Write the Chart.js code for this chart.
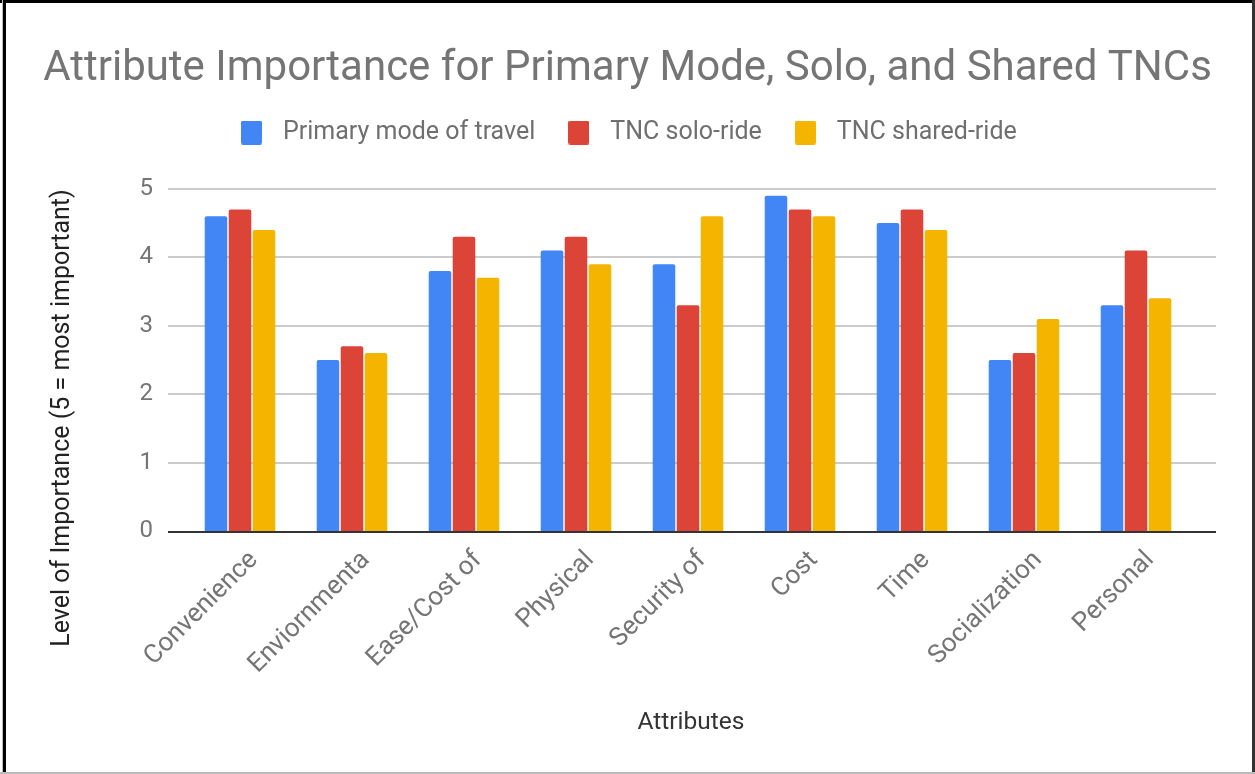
<!DOCTYPE html>
<html>
<head>
<meta charset="utf-8">
<title>Attribute Importance</title>
<script src="https://cdn.jsdelivr.net/npm/chart.js@4.4.1/dist/chart.umd.min.js"></script>
<style>
  html, body { margin: 0; padding: 0; background: #fff; }
  #wrap { position: relative; width: 1255px; height: 774px; }
</style>
</head>
<body>
<div id="wrap"><canvas id="myChart" width="1255" height="774"></canvas></div>
<script>
// attributes on the x axis
var attributes = ['Convenience', 'Enviornmenta', 'Ease/Cost of', 'Physical', 'Security of',
                  'Cost', 'Time', 'Socialization', 'Personal'];

// average importance score per attribute (1-5)
var primaryMode = [4.6, 2.5, 3.8, 4.1, 3.9, 4.9, 4.5, 2.5, 3.3];
var tncSolo     = [4.7, 2.7, 4.3, 4.3, 3.3, 4.7, 4.7, 2.6, 4.1];
var tncShared   = [4.4, 2.6, 3.7, 3.9, 4.6, 4.6, 4.4, 3.1, 3.4];

var seriesNames = ['Primary mode of travel', 'TNC solo-ride', 'TNC shared-ride'];
var yTicks = [0, 1, 2, 3, 4, 5];

var BLUE = '#4285f4', RED = '#db4437', YELLOW = '#f4b400';
var colors = [BLUE, RED, YELLOW];

// small rounded swatch used as legend marker
function swatch(color){
  var c = document.createElement('canvas');
  c.width = 21;
  c.height = 24;
  var g = c.getContext('2d');
  g.fillStyle = color;
  g.beginPath();
  g.roundRect(0, 0, 21, 24, 2);
  g.fill();
  return c;
}
var swatches = colors.map(swatch);

// horizontal grid lines run wider than the bars, like in sheets charts
var gridLines = {
  id: 'gridLines',
  beforeDatasetsDraw: function(chart){
    var y = chart.scales.y, a = chart.chartArea, ctx = chart.ctx;
    ctx.save();
    ctx.lineWidth = 2;
    ctx.strokeStyle = '#cccccc';
    yTicks.forEach(function(v){
      if (v === 0) return;
      var py = Math.round(y.getPixelForValue(v));
      ctx.beginPath();
      ctx.moveTo(a.left - 16, py);
      ctx.lineTo(a.right + 24, py);
      ctx.stroke();
    });
    ctx.restore();
  },
  afterDatasetsDraw: function(chart){
    var y = chart.scales.y, a = chart.chartArea, ctx = chart.ctx;
    var py = Math.round(y.getPixelForValue(0)) + 1;
    ctx.save();
    ctx.lineWidth = 2;
    ctx.strokeStyle = '#333333';
    ctx.beginPath();
    ctx.moveTo(a.left - 16, py);
    ctx.lineTo(a.right + 24, py);
    ctx.stroke();
    ctx.restore();
  }
};

// title centred on the page, legend left of centre under it
var placeBoxes = {
  id: 'placeBoxes',
  afterLayout: function(chart){
    var t = chart.titleBlock;
    t.left = 0;
    t.right = chart.width;

    var lg = chart.legend;
    var pad = lg.options.labels.padding;
    var w = lg.right - lg.left, h = lg.bottom - lg.top;
    lg.left = 232.5 - pad;
    lg.right = lg.left + w;
    lg.top = 120 - pad;
    lg.bottom = lg.top + h;
  }
};

// axis titles, drawn by hand so they can sit where sheets puts them
var axisTitles = {
  id: 'axisTitles',
  afterDraw: function(chart){
    var ctx = chart.ctx;
    ctx.save();
    ctx.textAlign = 'center';
    ctx.textBaseline = 'middle';

    ctx.fillStyle = '#222';
    ctx.font = '25px Roboto';
    ctx.translate(63, 418);
    ctx.rotate(-Math.PI / 2);
    ctx.fillText('Level of Importance (5 = most important)', 0, 0);
    ctx.setTransform(1, 0, 0, 1, 0, 0);

    ctx.fillStyle = '#333';
    ctx.font = '24.5px Roboto';
    ctx.textBaseline = 'alphabetic';
    ctx.fillText('Attributes', 691, 729);
    ctx.restore();
  }
};

// page frame
var frame = {
  id: 'frame',
  afterDraw: function(chart){
    var ctx = chart.ctx;
    ctx.save();
    ctx.fillStyle = '#000';
    ctx.fillRect(0, 0, 1255, 3);
    ctx.fillRect(3, 0, 3, 774);
    ctx.fillStyle = '#bbb';
    ctx.fillRect(2, 0, 1, 774);
    ctx.fillRect(0, 772, 1255, 2);
    ctx.fillStyle = '#333';
    ctx.fillRect(1252, 0, 3, 772);
    ctx.restore();
  }
};

function init(){
  var ctx = document.getElementById('myChart').getContext('2d');
  var myChart = new Chart(ctx, {
    type: 'bar',
    data: {
      labels: attributes,
      datasets: [
        { label: seriesNames[0], data: primaryMode, backgroundColor: BLUE },
        { label: seriesNames[1], data: tncSolo, backgroundColor: RED },
        { label: seriesNames[2], data: tncShared, backgroundColor: YELLOW }
      ]
    },
    options: {
      responsive: false,
      animation: false,
      layout: { padding: { top: 0, left: 0, right: 63, bottom: 0 } },
      datasets: {
        bar: {
          categoryPercentage: 0.643,
          barPercentage: 0.94,
          borderRadius: { topLeft: 2, topRight: 2 },
          borderSkipped: 'bottom'
        }
      },
      plugins: {
        title: {
          display: true,
          text: 'Attribute Importance for Primary Mode, Solo, and Shared TNCs',
          color: '#757575',
          font: { family: 'Roboto', size: 42, weight: 'normal' },
          padding: { top: 44, bottom: 35 }
        },
        legend: {
          position: 'top',
          align: 'start',
          labels: {
            color: '#6f6f6f',
            font: { family: 'Roboto', size: 25 },
            usePointStyle: true,
            pointStyleWidth: 38,
            boxHeight: 24,
            padding: 24.5,
            generateLabels: function(chart){
              var items = Chart.defaults.plugins.legend.labels.generateLabels(chart);
              items.forEach(function(it, i){ it.pointStyle = swatches[i]; });
              return items;
            }
          }
        },
        tooltip: { enabled: false }
      },
      scales: {
        x: {
          afterFit: function(scale){ scale.height = 243; },
          grid: { display: false },
          border: { display: false },
          ticks: {
            color: '#757575',
            font: { family: 'Roboto', size: 26 },
            minRotation: 45,
            maxRotation: 45,
            padding: 6,
            labelOffset: 14
          }
        },
        y: {
          min: 0,
          max: 5,
          afterFit: function(scale){ scale.width = 184; },
          afterBuildTicks: function(scale){
            scale.ticks = yTicks.map(function(v){ return { value: v }; });
          },
          grid: { display: false, drawTicks: false },
          border: { display: false },
          ticks: {
            color: '#757575',
            font: { family: 'Roboto', size: 24 },
            padding: 31
          }
        }
      }
    },
    plugins: [gridLines, placeBoxes, axisTitles, frame]
  });
}

init();
</script>
</body>
</html>
